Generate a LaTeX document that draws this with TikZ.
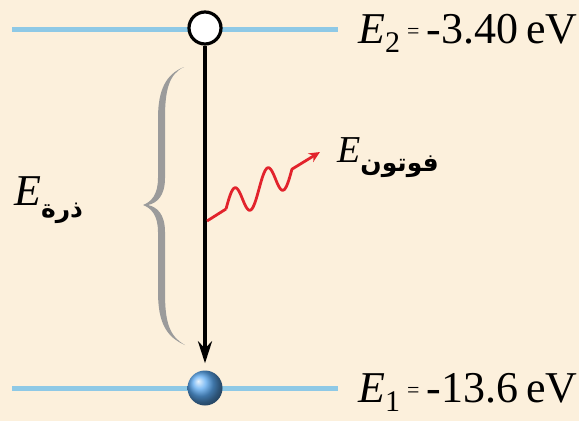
\documentclass[tikz,border=0pt]{standalone}
\usepackage{fontspec}
\setmainfont{Liberation Serif}
\newfontfamily\arabicfont[Script=Arabic]{DejaVu Sans}
\TeXXeTstate=1
\usetikzlibrary{arrows.meta,calc}
\definecolor{bg}{HTML}{FCF0DC}
\definecolor{levelblue}{HTML}{8EC9E6}
\definecolor{photonred}{HTML}{E2232C}
\definecolor{bracegray}{HTML}{9B9B9B}
\definecolor{ballblue}{HTML}{5AA8F0}
\begin{document}
\begin{tikzpicture}[x=1pt,y=-1pt,
  levelline/.style={levelblue, line width=5pt},
  lbl/.style={inner sep=0pt, anchor=base west, font=\fontsize{44}{50}\selectfont},
  ]
\fill[bg] (0,0) rectangle (579,421);
\useasboundingbox (0,0) rectangle (579,421);
% energy levels
\coordinate (l2a) at (12,29); \coordinate (l2b) at (338,29);
\coordinate (l1a) at (12,388); \coordinate (l1b) at (338,388);
\draw[levelline] (l2a) -- (l2b);
\draw[levelline] (l1a) -- (l1b);
% electron states
\node[circle, draw=black, line width=3.2pt, fill=white, minimum size=32pt, inner sep=0pt] (e2) at (205,28) {};
\node[circle, shading=ball, ball color=ballblue, minimum size=35pt, inner sep=0pt] (e1) at (205,388) {};
% transition arrow
\draw[line width=4pt, -{Stealth[length=22pt,width=14pt]}, shorten >=7pt] (e2) -- (e1);
% brace
\fill[bracegray] (184,67) .. controls (166,74) and (158,90) .. (158,118) -- (158,178)
  .. controls (158,195) and (151,202) .. (143,205)
  .. controls (151,208) and (158,215) .. (158,232) -- (158,292)
  .. controls (158,322) and (166,337) .. (185,345)
  .. controls (169,336) and (165,322) .. (165,292) -- (165,232)
  .. controls (165,214) and (157,207) .. (148,205)
  .. controls (157,203) and (165,196) .. (165,178) -- (165,118)
  .. controls (165,90) and (169,74) .. (184,67) -- cycle;
% photon
\coordinate (ph0) at (207,221);
\coordinate (w0) at (226,209);
\coordinate (ph1) at (320,152);
\draw[photonred, line width=2.8pt, line join=round, -{Stealth[length=11pt,width=10pt]}]
  (ph0) -- (w0)
  plot[domain=0:1, samples=60, smooth] ({226+66*\x},{209-40*\x-16*sin(720*\x)})
  -- (ph1);
% labels
\node[lbl] (t2) at (358,43) {\textit{E}\raisebox{-9pt}{\fontsize{30}{30}\selectfont 2}\hspace{7pt}\raisebox{5pt}{\fontsize{22}{22}\selectfont =}\hspace{7pt}-3.40\hspace{8pt}eV};
\node[lbl] (t1) at (358,402) {\textit{E}\raisebox{-9pt}{\fontsize{30}{30}\selectfont 1}\hspace{7pt}\raisebox{5pt}{\fontsize{22}{22}\selectfont =}\hspace{7pt}-13.6\hspace{8pt}eV};
\node[lbl] (ta) at (14,205) {\textit{E}\raisebox{-12pt}{\arabicfont\bfseries\fontsize{25}{25}\selectfont\beginR ذرة\endR}};
\node[lbl, font=\fontsize{38}{44}\selectfont] (tp) at (337,162) {\textit{E}\raisebox{-9pt}{\arabicfont\bfseries\fontsize{25}{25}\selectfont\beginR فوتون\endR}};
\end{tikzpicture}
\end{document}
